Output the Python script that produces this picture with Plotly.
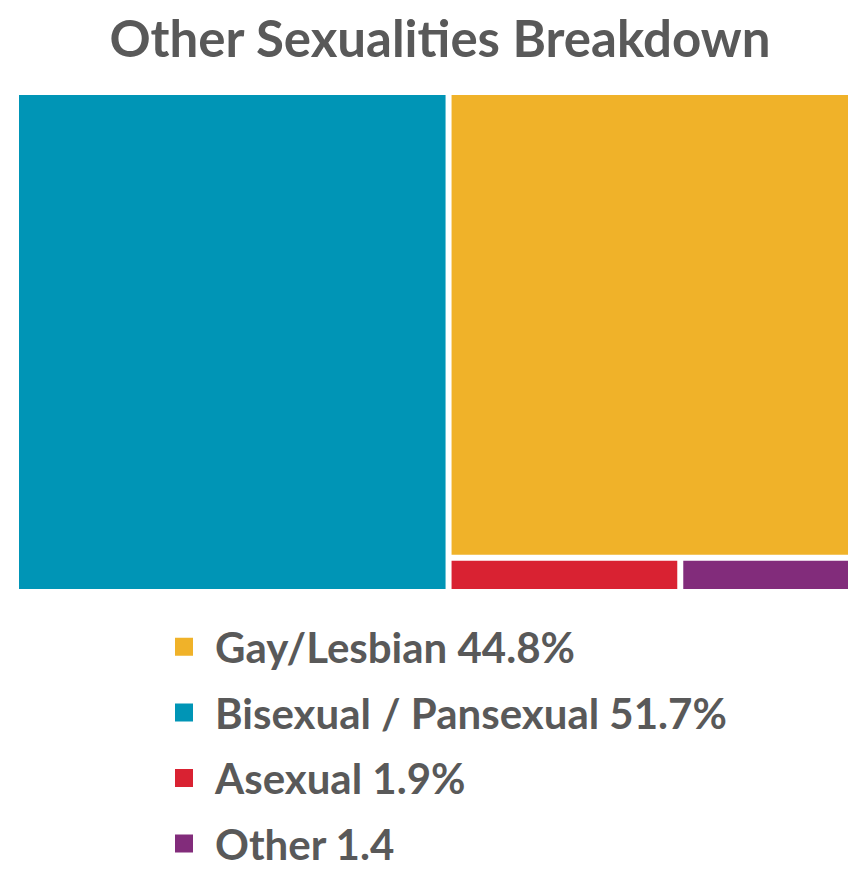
import plotly.graph_objects as go

categories = ["Bisexual / Pansexual", "Gay/Lesbian", "Asexual", "Other"]
values = [51.7, 44.8, 1.9, 1.4]
legend_labels = ["Gay/Lesbian 44.8%", "Bisexual / Pansexual 51.7%", "Asexual 1.9%", "Other 1.4"]
legend_order = ["Gay/Lesbian", "Bisexual / Pansexual", "Asexual", "Other"]
colors = {"Bisexual / Pansexual": "#0095B6", "Gay/Lesbian": "#F0B229",
          "Asexual": "#D92232", "Other": "#822C7B"}

# page body has an 8px default margin around the figure
OFF = 8
W, H = 856 - 2 * OFF, 886 - 2 * OFF


def px_x(x):
    return (x - OFF) / W


def px_y(y):
    return 1 - (y - OFF) / H


fig = go.Figure()
fig.add_trace(go.Treemap(
    labels=categories,
    parents=[""] * len(categories),
    values=values,
    marker=dict(colors=[colors[c] for c in categories], line=dict(color="white", width=0),
                pad=dict(t=0, l=0, r=0, b=0)),
    textinfo="none",
    sort=True,
    pathbar=dict(visible=False),
    tiling=dict(packing="squarify", pad=6),
    domain=dict(x=[px_x(19), 1], y=[px_y(589), px_y(95)]),
    hoverinfo="label+value",
))

for name, lab in zip(legend_order, legend_labels):
    fig.add_trace(go.Scatter(
        x=[None], y=[None], mode="markers", name=lab,
        marker=dict(symbol="square", size=16, color=colors[name],
                    line=dict(color=colors[name], width=2)),
        legendgroup=name,
    ))

fig.update_layout(
    width=W, height=H,
    margin=dict(l=0, r=0, t=0, b=0, autoexpand=False),
    paper_bgcolor="white", plot_bgcolor="white",
    title=dict(text="<b>Other Sexualities Breakdown</b>", x=px_x(440), xanchor="center",
               y=px_y(39), yanchor="middle",
               font=dict(family="Lato", size=51, color="#595959")),
    xaxis=dict(visible=False, domain=[0, 0.01]),
    yaxis=dict(visible=False, domain=[0, 0.01]),
    showlegend=True,
    legend=dict(
        x=px_x(153), xanchor="left", y=px_y(613), yanchor="top",
        font=dict(family="Lato", size=42, color="#595959", weight="bold"),
        traceorder="grouped", tracegroupgap=8,
        itemwidth=52,
        itemsizing="trace", bgcolor="rgba(0,0,0,0)",
    ),
)

fig.write_html("out.html")
